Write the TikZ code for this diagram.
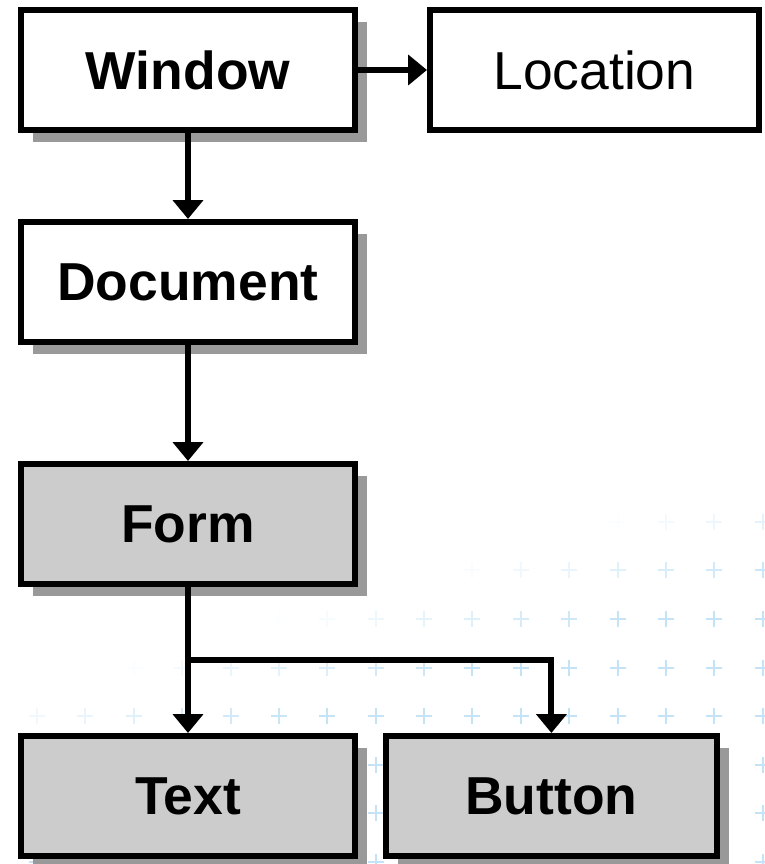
\documentclass[tikz,border=0pt]{standalone}
\usepackage{fontspec}
\setmainfont{Liberation Sans}
\usetikzlibrary{positioning,shadows,arrows.meta}

\definecolor{plusblue}{HTML}{C4E3F6}

\tikzset{
	box/.style={minimum height=3cm,minimum width=8.35cm,draw=black,line width=0.15cm,fill=white,font=\fontsize{38}{40}\selectfont\bfseries},
	grybox/.style={box,fill=black!20},
	shd/.style={drop shadow={shadow xshift=0.3cm,shadow yshift=-0.3cm,fill=black!40,opacity=1}},
	arr/.style={line width=0.15cm,-{Triangle[width=0.74cm,length=0.47cm]}},
	plusmark/.style={draw=plusblue,line width=0.05cm}
}

\begin{document}
\begin{tikzpicture}
		\useasboundingbox (0,0) rectangle (19.1,-21.6);
		
		% faint crosses in the background
		\begin{scope}[x=0.025cm,y=-0.025cm]
			\foreach \i in {0,...,15} {
				\foreach \j in {0,...,7} {
					\pgfmathsetmacro\px{37+48.4*\i}
					\pgfmathsetmacro\py{522+48.6*\j}
					\pgfmathsetmacro\op{min(1,max(0,(\py+0.3*\px-700)/110))}
					\draw[plusmark,opacity=\op] (\px-8,\py) -- (\px+8,\py) (\px,\py-8) -- (\px,\py+8);
				}
			}
		\end{scope}
		
		\node[box,shd] (win) at (4.7,-1.75) {Window};
		\node[box,minimum width=8.22cm,font=\fontsize{38}{40}\selectfont,right=1.725cm of win] (loc) {Location};
		
		\node[box,shd,below=2.15cm of win] (doc) {Document};
		\node[grybox,shd,below=2.9cm of doc] (frm) {Form};
		
		\node[grybox,shd,below=3.65cm of frm] (txt) {Text};
		\node[grybox,shd,minimum width=8.27cm,right=0.625cm of txt] (btn) {Button};
		
		\coordinate (fork) at ([yshift=1.825cm]btn.north);
		
		\draw[arr] (win.east) -- (loc.west);
		\draw[arr] (win.south) -- (doc.north);
		\draw[arr] (doc.south) -- (frm.north);
		\draw[arr] (frm.south) -- (txt.north);
		\draw[arr] (frm.south) |- (fork) -- (btn.north);
	\end{tikzpicture}
\end{document}
